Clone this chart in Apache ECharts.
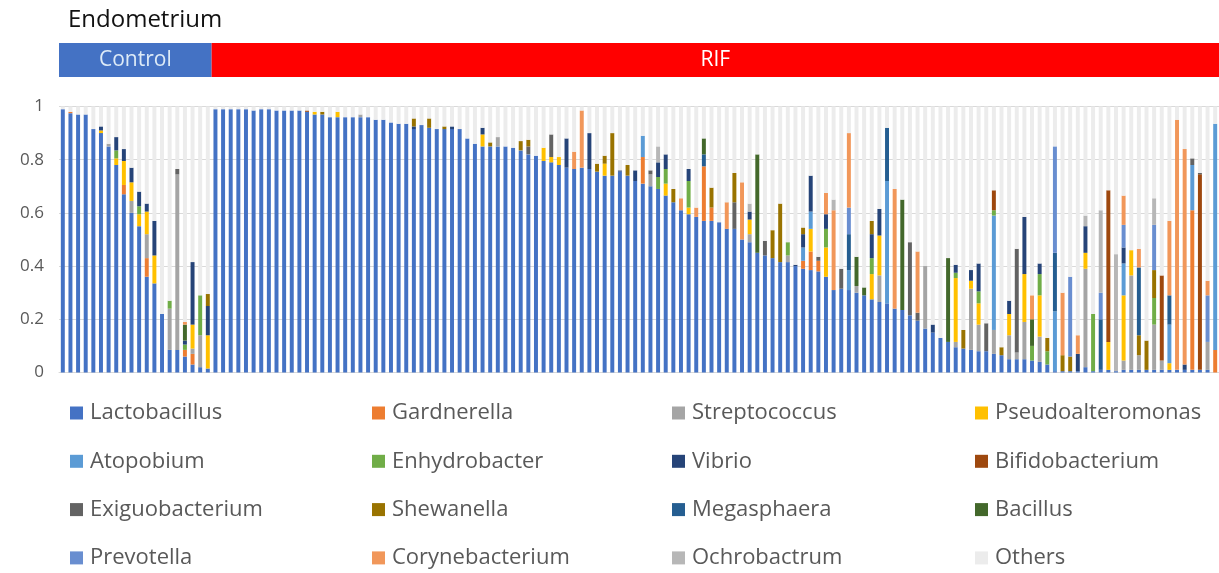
<!DOCTYPE html>
<html>
<head>
<meta charset="utf-8">
<title>Endometrium</title>
<script src="https://cdn.jsdelivr.net/npm/echarts@6/dist/echarts.min.js"></script>
<style>
  html, body { margin: 0; padding: 0; background: #ffffff; }
  #chart { width: 1219px; height: 573px; }
</style>
</head>
<body>
<div id="chart"></div>
<script>
// Sample groups, in plotting order
const groupNames = ['Control', 'RIF'];
const groupSizes = [20, 132];

// Y axis ticks (relative abundance)
const yTicks = [0, 0.2, 0.4, 0.6, 0.8, 1];

// Genus names in stacking order (bottom to top)
const genusNames = [
  'Lactobacillus', 'Gardnerella', 'Streptococcus', 'Pseudoalteromonas',
  'Atopobium', 'Enhydrobacter', 'Vibrio', 'Bifidobacterium',
  'Exiguobacterium', 'Shewanella', 'Megasphaera', 'Bacillus',
  'Prevotella', 'Corynebacterium', 'Ochrobactrum', 'Others'
];

// Relative abundance per sample (152 samples: 20 Control, then 132 RIF)
const lactobacillus = [
  .99, .975, .97, .97, .915, .90, .85, .78, .67, .60,
  .55, .36, .335, .22, .085, .085, .06, .03, .02, .015,
  .99, .99, .99, .99, .99, .985, .99, .99, .985, .985,
  .985, .985, .98, .97, .97, .96, .96, .96, .96, .96,
  .96, .95, .95, .94, .935, .935, .915, .93, .92, .915,
  .915, .915, .915, .88, .86, .85, .85, .85, .85, .845,
  .835, .82, .815, .795, .79, .78, .77, .765, .77, .765,
  .755, .74, .74, .755, .74, .72, .71, .70, .69, .665,
  .64, .61, .595, .585, .57, .57, .565, .54, .54, .50,
  .49, .45, .44, .43, .415, .415, .40, .39, .385, .38,
  .36, .31, .315, .31, .30, .29, .275, .265, .26, .24,
  .235, .215, .195, .165, .15, .13, .115, .095, .09, .085,
  .08, .08, .07, .065, .05, .05, .05, .045, .04, .03,
  .005, .005, .005, .005, .02, .005, .01, .01, .005, .01,
  .01, .01, .01, .01, .01, .01, .01, .01, .01, .01,
  .01, 0
];
const gardnerella = [
  0, .005, 0, 0, 0, 0, 0, 0, .035, 0,
  0, .07, 0, 0, 0, 0, .025, .04, 0, 0,
  0, 0, 0, 0, 0, 0, 0, 0, 0, 0,
  0, 0, 0, 0, 0, 0, 0, 0, 0, 0,
  0, 0, 0, 0, 0, 0, 0, 0, 0, 0,
  0, 0, 0, 0, 0, 0, 0, 0, 0, 0,
  0, 0, 0, 0, 0, 0, 0, 0, 0, 0,
  0, 0, 0, 0, 0, 0, .10, 0, 0, 0,
  0, 0, 0, 0, .205, .05, 0, 0, 0, 0,
  0, 0, 0, 0, 0, 0, 0, .03, .07, .04,
  0, 0, 0, 0, 0, 0, 0, 0, 0, 0,
  0, 0, 0, 0, 0, 0, 0, 0, 0, 0,
  0, 0, 0, 0, 0, 0, 0, 0, 0, 0,
  0, 0, 0, 0, 0, 0, 0, 0, 0, 0,
  0, 0, 0, 0, 0, 0, 0, 0, .60, 0,
  0, .085
];
const streptococcus = [
  0, 0, 0, 0, 0, 0, .01, 0, 0, .045,
  0, .09, 0, 0, .155, .66, 0, .02, .12, 0,
  0, 0, 0, 0, 0, 0, 0, 0, 0, 0,
  0, 0, 0, 0, 0, 0, 0, 0, 0, .01,
  0, 0, 0, 0, 0, 0, 0, 0, 0, 0,
  0, 0, 0, 0, 0, 0, 0, .035, 0, 0,
  0, 0, 0, 0, 0, 0, 0, 0, 0, 0,
  0, 0, 0, 0, 0, 0, 0, .045, 0, 0,
  0, 0, 0, 0, 0, 0, 0, 0, 0, 0,
  .03, 0, 0, 0, 0, .025, 0, 0, 0, 0,
  0, 0, 0, 0, .025, 0, 0, .10, 0, 0,
  0, 0, 0, .235, 0, 0, 0, .02, 0, .23,
  .10, 0, .09, 0, .09, .025, .14, 0, .095, 0,
  0, 0, 0, 0, .37, 0, 0, 0, 0, .035,
  .355, .055, 0, .17, .035, 0, 0, 0, 0, 0,
  .105, 0
];
const pseudoalteromonas = [
  0, 0, 0, 0, 0, .01, 0, .025, .09, .07,
  .045, .085, .105, 0, 0, 0, 0, .09, 0, .125,
  0, 0, 0, 0, 0, 0, 0, 0, 0, 0,
  0, 0, 0, .01, 0, 0, .02, 0, 0, 0,
  0, 0, 0, 0, 0, 0, 0, 0, 0, 0,
  0, 0, 0, 0, 0, .045, 0, 0, 0, 0,
  0, 0, 0, .05, .02, .03, 0, 0, 0, 0,
  0, .045, 0, 0, 0, 0, 0, 0, 0, .045,
  0, 0, .025, 0, 0, 0, 0, 0, 0, 0,
  .055, 0, 0, 0, 0, 0, 0, 0, .085, 0,
  .11, 0, 0, 0, 0, 0, .095, .15, 0, 0,
  0, 0, 0, 0, 0, 0, 0, .24, 0, .03,
  .08, 0, 0, 0, .08, 0, .18, 0, .155, 0,
  0, 0, 0, 0, .06, 0, 0, .105, 0, .245,
  .095, 0, 0, 0, 0, .025, 0, 0, 0, 0,
  0, 0
];
const atopobium = [
  0, 0, 0, 0, 0, 0, 0, 0, 0, 0,
  0, 0, 0, 0, 0, 0, 0, 0, 0, 0,
  0, 0, 0, 0, 0, 0, 0, 0, 0, 0,
  0, 0, 0, 0, 0, 0, 0, 0, 0, 0,
  0, 0, 0, 0, 0, 0, 0, 0, 0, 0,
  0, 0, 0, 0, 0, 0, 0, 0, 0, 0,
  0, 0, 0, 0, 0, 0, 0, 0, 0, 0,
  0, 0, 0, 0, 0, 0, .08, 0, 0, 0,
  0, 0, 0, 0, 0, 0, 0, 0, 0, 0,
  0, 0, 0, 0, 0, 0, 0, .05, .065, 0,
  0, 0, 0, .075, 0, 0, 0, 0, .46, 0,
  0, 0, 0, 0, 0, 0, 0, 0, 0, 0,
  0, 0, .43, 0, 0, 0, 0, 0, 0, 0,
  .225, 0, 0, 0, 0, 0, 0, 0, 0, .12,
  0, 0, 0, 0, 0, .145, 0, 0, .17, 0,
  0, .85
];
const enhydrobacter = [
  0, 0, 0, 0, 0, 0, 0, .03, 0, 0,
  .03, 0, 0, 0, .03, 0, .02, 0, .15, 0,
  0, 0, 0, 0, 0, 0, 0, 0, 0, 0,
  0, 0, 0, 0, 0, 0, 0, 0, 0, 0,
  0, 0, 0, 0, 0, 0, 0, 0, 0, 0,
  0, 0, 0, 0, 0, 0, 0, 0, 0, 0,
  0, 0, 0, 0, 0, 0, 0, 0, 0, 0,
  0, 0, 0, 0, 0, 0, 0, 0, .045, .055,
  0, 0, .10, 0, 0, 0, 0, 0, 0, 0,
  0, 0, 0, 0, 0, .05, 0, 0, 0, 0,
  .07, 0, 0, 0, 0, 0, .06, 0, 0, 0,
  0, 0, 0, 0, 0, 0, 0, .02, 0, 0,
  .045, 0, .02, 0, 0, 0, 0, .055, .08, .05,
  0, 0, 0, 0, 0, .215, 0, 0, 0, 0,
  0, 0, 0, .10, 0, 0, 0, 0, 0, 0,
  0, 0
];
const vibrio = [
  0, 0, 0, 0, 0, .015, 0, .05, .045, .055,
  .055, .03, .13, 0, 0, 0, .015, .235, 0, .11,
  0, 0, 0, 0, 0, 0, 0, 0, 0, 0,
  0, 0, 0, 0, 0, 0, 0, 0, 0, 0,
  0, 0, 0, 0, 0, 0, .01, 0, 0, 0,
  0, .01, 0, 0, 0, .025, 0, 0, 0, 0,
  0, 0, 0, 0, 0, 0, .11, 0, 0, .135,
  0, 0, 0, .005, 0, .04, 0, 0, .055, .055,
  0, 0, .045, 0, 0, 0, 0, 0, 0, 0,
  .03, 0, 0, 0, 0, 0, .005, .05, .135, 0,
  .055, 0, 0, 0, 0, 0, .09, .10, 0, 0,
  0, 0, 0, 0, .03, 0, 0, .03, 0, .04,
  .105, 0, 0, 0, .05, 0, .215, 0, .04, 0,
  0, 0, 0, .065, .10, 0, 0, 0, 0, .06,
  0, 0, 0, 0, 0, 0, 0, .02, 0, 0,
  0, 0
];
const bifidobacterium = [
  0, 0, 0, 0, 0, 0, 0, 0, 0, 0,
  0, 0, 0, 0, 0, 0, 0, 0, 0, 0,
  0, 0, 0, 0, 0, 0, 0, 0, 0, 0,
  0, 0, .005, 0, 0, 0, 0, 0, 0, 0,
  0, 0, 0, 0, 0, 0, 0, 0, 0, 0,
  0, 0, 0, 0, 0, 0, 0, 0, 0, 0,
  0, 0, 0, 0, 0, 0, 0, 0, 0, 0,
  0, 0, 0, 0, 0, 0, 0, 0, 0, 0,
  0, 0, 0, 0, 0, 0, 0, 0, 0, 0,
  0, 0, 0, 0, 0, 0, 0, 0, 0, 0,
  0, 0, 0, 0, 0, 0, 0, 0, 0, 0,
  0, 0, 0, 0, 0, 0, 0, 0, 0, 0,
  0, 0, .075, 0, 0, 0, 0, 0, 0, 0,
  0, 0, 0, 0, 0, 0, 0, .57, 0, 0,
  0, 0, 0, 0, .32, 0, 0, 0, 0, .735,
  0, 0
];
const exiguobacterium = [
  0, 0, 0, 0, 0, 0, 0, 0, 0, 0,
  0, 0, 0, 0, 0, .02, 0, 0, 0, 0,
  0, 0, 0, 0, 0, 0, 0, 0, 0, 0,
  0, 0, 0, 0, 0, 0, 0, 0, 0, 0,
  0, 0, 0, 0, 0, 0, 0, 0, 0, 0,
  0, 0, 0, 0, 0, 0, 0, 0, 0, 0,
  0, .03, 0, 0, .085, 0, 0, 0, 0, 0,
  0, 0, 0, 0, 0, 0, 0, .015, 0, 0,
  0, 0, 0, 0, 0, 0, 0, 0, .10, 0,
  0, 0, .055, 0, 0, 0, 0, 0, 0, .015,
  0, 0, .075, 0, 0, 0, 0, 0, 0, 0,
  0, .275, .03, 0, 0, 0, 0, 0, 0, 0,
  0, .105, 0, 0, 0, .39, 0, 0, 0, 0,
  0, 0, 0, 0, 0, 0, 0, 0, 0, 0,
  0, 0, 0, 0, 0, 0, 0, 0, .025, .005,
  0, 0
];
const shewanella = [
  0, 0, 0, 0, 0, 0, 0, 0, 0, 0,
  0, 0, 0, 0, 0, 0, 0, 0, 0, .045,
  0, 0, 0, 0, 0, 0, 0, 0, 0, 0,
  0, 0, 0, 0, .01, 0, 0, 0, 0, 0,
  0, 0, 0, 0, 0, 0, .03, 0, .035, 0,
  .01, 0, 0, 0, 0, 0, .015, 0, 0, 0,
  .035, .025, 0, 0, 0, 0, 0, 0, 0, 0,
  .03, .03, .16, 0, .04, 0, 0, 0, 0, 0,
  .05, 0, 0, 0, 0, .075, 0, 0, .11, 0,
  0, 0, 0, .105, .22, 0, 0, .025, 0, 0,
  0, 0, 0, 0, 0, 0, .05, 0, 0, 0,
  0, 0, 0, 0, 0, 0, 0, 0, .07, 0,
  0, 0, 0, .03, 0, 0, 0, 0, 0, .05,
  0, .06, .055, 0, 0, 0, 0, 0, 0, 0,
  0, .075, .11, .105, 0, 0, 0, 0, 0, 0,
  0, 0
];
const megasphaera = [
  0, 0, 0, 0, 0, 0, 0, 0, 0, 0,
  0, 0, 0, 0, 0, 0, 0, 0, 0, 0,
  0, 0, 0, 0, 0, 0, 0, 0, 0, 0,
  0, 0, 0, 0, 0, 0, 0, 0, 0, 0,
  0, 0, 0, 0, 0, 0, 0, 0, 0, 0,
  0, 0, 0, 0, 0, 0, 0, 0, 0, 0,
  0, 0, 0, 0, 0, 0, 0, 0, 0, 0,
  0, 0, 0, 0, 0, 0, 0, 0, 0, 0,
  0, 0, 0, 0, .045, 0, 0, 0, 0, 0,
  0, 0, 0, 0, 0, 0, 0, 0, 0, 0,
  0, 0, 0, .135, 0, 0, 0, 0, .20, 0,
  0, 0, 0, 0, 0, 0, 0, 0, 0, 0,
  0, 0, 0, 0, 0, 0, 0, 0, 0, 0,
  .22, 0, 0, 0, 0, 0, .19, 0, 0, 0,
  0, .255, 0, 0, 0, .11, 0, 0, 0, 0,
  0, 0
];
const bacillus = [
  0, 0, 0, 0, 0, 0, 0, 0, 0, 0,
  0, 0, 0, 0, 0, 0, .06, 0, 0, 0,
  0, 0, 0, 0, 0, 0, 0, 0, 0, 0,
  0, 0, 0, 0, 0, 0, 0, 0, 0, 0,
  0, 0, 0, 0, 0, 0, 0, 0, 0, 0,
  0, 0, 0, 0, 0, 0, 0, 0, 0, 0,
  0, 0, 0, 0, 0, 0, 0, 0, 0, 0,
  0, 0, 0, 0, 0, 0, 0, 0, 0, 0,
  0, 0, 0, 0, .06, 0, 0, 0, 0, 0,
  0, .37, 0, 0, 0, 0, 0, 0, 0, 0,
  0, 0, 0, 0, .11, .03, 0, 0, 0, 0,
  .415, 0, 0, 0, 0, 0, .315, 0, 0, 0,
  0, 0, 0, 0, 0, 0, 0, .10, 0, 0,
  0, 0, 0, 0, 0, 0, 0, 0, 0, 0,
  0, 0, 0, 0, 0, 0, 0, 0, 0, 0,
  0, 0
];
const prevotella = [
  0, 0, 0, 0, 0, 0, 0, 0, 0, 0,
  0, 0, 0, 0, 0, 0, 0, 0, 0, 0,
  0, 0, 0, 0, 0, 0, 0, 0, 0, 0,
  0, 0, 0, 0, 0, 0, 0, 0, 0, 0,
  0, 0, 0, 0, 0, 0, 0, 0, 0, 0,
  0, 0, 0, 0, 0, 0, 0, 0, 0, 0,
  0, 0, 0, 0, 0, 0, 0, 0, 0, 0,
  0, 0, 0, 0, 0, 0, 0, 0, 0, 0,
  0, 0, 0, 0, 0, 0, 0, 0, 0, 0,
  0, 0, 0, 0, 0, 0, 0, 0, 0, 0,
  0, 0, 0, .10, 0, 0, 0, 0, 0, 0,
  0, 0, 0, 0, 0, 0, 0, 0, 0, 0,
  0, 0, 0, 0, 0, 0, 0, 0, 0, 0,
  .40, 0, .30, 0, 0, 0, .10, 0, 0, .085,
  0, 0, 0, .17, 0, 0, 0, 0, 0, 0,
  .175, 0
];
const corynebacterium = [
  0, 0, 0, 0, 0, 0, 0, 0, 0, 0,
  0, 0, 0, 0, 0, 0, .01, 0, 0, 0,
  0, 0, 0, 0, 0, 0, 0, 0, 0, 0,
  0, 0, 0, 0, 0, 0, 0, 0, 0, 0,
  0, 0, 0, 0, 0, 0, 0, 0, 0, 0,
  0, 0, 0, 0, 0, 0, 0, 0, 0, 0,
  0, 0, 0, 0, 0, 0, 0, .065, .215, 0,
  0, 0, 0, 0, 0, 0, 0, 0, 0, 0,
  0, .045, 0, .035, 0, 0, 0, .10, 0, .215,
  0, 0, 0, 0, 0, 0, 0, 0, 0, 0,
  .08, .30, 0, .28, 0, 0, 0, 0, 0, .45,
  0, 0, .23, 0, 0, 0, 0, 0, 0, 0,
  0, 0, 0, 0, 0, 0, 0, .09, 0, 0,
  0, .235, 0, .07, 0, 0, 0, 0, 0, .11,
  0, .07, 0, 0, 0, .28, .94, .81, 0, 0,
  .055, 0
];
const ochrobactrum = [
  0, 0, 0, 0, 0, 0, 0, 0, 0, 0,
  0, 0, 0, 0, 0, 0, 0, 0, 0, 0,
  0, 0, 0, 0, 0, 0, 0, 0, 0, 0,
  0, 0, 0, 0, 0, 0, 0, 0, 0, 0,
  0, 0, 0, 0, 0, 0, 0, 0, 0, 0,
  0, 0, 0, 0, 0, 0, 0, 0, 0, 0,
  0, 0, 0, 0, 0, 0, 0, 0, 0, 0,
  0, 0, 0, 0, 0, 0, 0, 0, .06, 0,
  0, 0, 0, 0, 0, 0, 0, 0, 0, 0,
  .03, 0, 0, 0, 0, 0, 0, 0, 0, 0,
  0, .04, 0, 0, 0, 0, 0, 0, 0, 0,
  0, 0, 0, 0, 0, 0, 0, 0, 0, 0,
  0, 0, 0, 0, 0, 0, 0, 0, 0, 0,
  0, 0, 0, 0, .04, 0, .31, 0, .44, 0,
  0, 0, 0, .10, 0, 0, 0, 0, 0, 0,
  0, 0
];
const others = [
  .01, .02, .03, .03, .085, .075, .14, .115, .16, .23,
  .32, .365, .43, .78, .73, .235, .81, .585, .71, .705,
  .01, .01, .01, .01, .01, .015, .01, .01, .015, .015,
  .015, .015, .015, .02, .02, .04, .02, .04, .04, .03,
  .04, .05, .05, .06, .065, .065, .045, .07, .045, .085,
  .075, .075, .085, .12, .14, .08, .135, .115, .15, .155,
  .13, .125, .185, .155, .105, .19, .12, .17, .015, .10,
  .215, .185, .10, .24, .22, .24, .11, .24, .15, .18,
  .31, .345, .235, .38, .12, .305, .435, .36, .25, .285,
  .365, .18, .505, .465, .365, .51, .595, .455, .26, .565,
  .325, .35, .61, .10, .565, .68, .43, .385, .08, .31,
  .35, .51, .545, .60, .82, .87, .57, .595, .84, .615,
  .59, .815, .315, .905, .73, .535, .415, .71, .59, .87,
  .15, .70, .64, .86, .41, .78, .39, .315, .555, .335,
  .54, .535, .88, .345, .635, .43, .05, .16, .195, .25,
  .655, .065
];

const genusValues = [
  lactobacillus, gardnerella, streptococcus, pseudoalteromonas,
  atopobium, enhydrobacter, vibrio, bifidobacterium,
  exiguobacterium, shewanella, megasphaera, bacillus,
  prevotella, corynebacterium, ochrobactrum, others
];

// Fill colours, one per genus
const genusColors = [
  '#4472C4', '#ED7D31', '#A5A5A5', '#FFC000',
  '#5B9BD5', '#70AD47', '#264478', '#9E480E',
  '#636363', '#997300', '#255E91', '#43682B',
  '#698ED0', '#F1975A', '#B7B7B7', '#ECECEC'
];
const groupColors = ['#4472C4', '#FF0000'];
const groupTextColors = ['#DDEBF7', '#FFFFFF'];

// Sample identifiers (not drawn): group name + running number
const samples = [];
groupNames.forEach((g, gi) => {
  for (let k = 1; k <= groupSizes[gi]; k++) samples.push(g + ' ' + k);
});

const FONT = '"Open Sans", "Noto Sans", sans-serif';
const textGrey = '#595959';

const chart = echarts.init(document.getElementById('chart'), null, { renderer: 'canvas' });

const series = genusNames.map((name, i) => ({
  name: name,
  type: 'bar',
  stack: 'abundance',
  barWidth: '52%',
  itemStyle: { color: genusColors[i] },
  emphasis: { disabled: true },
  data: genusValues[i]
}));

// Legend laid out as 4 columns of 4 rows (row-major order of genusNames)
const legendColumnsX = [70, 372, 672, 975];
const legends = legendColumnsX.map((x, c) => ({
  orient: 'vertical',
  left: x,
  top: 401,
  height: 171,
  padding: 0,
  itemWidth: 13,
  itemHeight: 13,
  itemGap: 24.3,
  icon: 'rect',
  selectedMode: false,
  textStyle: { color: textGrey, fontSize: 22, fontFamily: FONT, lineHeight: 24, padding: [0, 0, 0, 2] },
  data: [0, 1, 2, 3].map(r => genusNames[r * 4 + c])
}));

chart.setOption({
  animation: false,
  backgroundColor: '#ffffff',
  title: {
    text: 'Endometrium',
    left: 63,
    top: 3,
    textStyle: { color: '#111111', fontSize: 24, fontWeight: 'normal', fontFamily: FONT }
  },
  grid: { left: 59, right: 0, top: 106.5, bottom: 200.5, containLabel: false },
  legend: legends,
  xAxis: {
    type: 'category',
    data: samples,
    axisLine: { show: true, lineStyle: { color: '#D9D9D9', width: 1 } },
    axisTick: { show: false },
    axisLabel: { show: false },
    splitLine: { show: false }
  },
  yAxis: {
    type: 'value',
    min: yTicks[0],
    max: yTicks[yTicks.length - 1],
    interval: yTicks[1] - yTicks[0],
    axisLine: { show: false },
    axisTick: { show: false },
    axisLabel: { color: textGrey, fontSize: 17, fontFamily: FONT, margin: 15 },
    splitLine: { show: true, lineStyle: { color: '#D9D9D9', width: 1 } }
  },
  series: series
});

// Group header band above the plot, spanning each group's categories
function drawGroupHeader() {
  const c0 = chart.convertToPixel({ xAxisIndex: 0 }, 0);
  const c1 = chart.convertToPixel({ xAxisIndex: 0 }, 1);
  const band = c1 - c0;
  const top = 43, height = 34;
  const elements = [];
  let start = 0;
  groupNames.forEach((g, gi) => {
    const end = start + groupSizes[gi] - 1;
    const x0 = chart.convertToPixel({ xAxisIndex: 0 }, start) - band / 2;
    const x1 = chart.convertToPixel({ xAxisIndex: 0 }, end) + band / 2;
    elements.push({
      type: 'rect',
      shape: { x: x0, y: top, width: x1 - x0, height: height },
      style: { fill: groupColors[gi] },
      silent: true
    });
    elements.push({
      type: 'text',
      style: {
        text: g,
        x: (x0 + x1) / 2,
        y: top + height / 2,
        align: 'center',
        verticalAlign: 'middle',
        fill: groupTextColors[gi],
        fontSize: 21,
        fontFamily: FONT
      },
      silent: true
    });
    start = end + 1;
  });
  chart.setOption({ graphic: elements });
}
drawGroupHeader();
</script>
</body>
</html>
